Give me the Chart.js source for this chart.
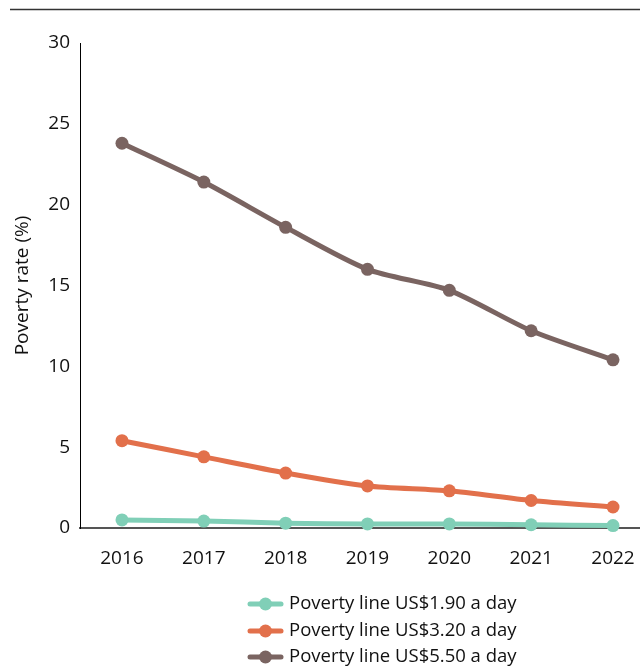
<!DOCTYPE html>
<html>
<head>
<meta charset="utf-8">
<script src="https://cdn.jsdelivr.net/npm/chart.js@4/dist/chart.umd.min.js"></script>
<style>
html,body{margin:0;padding:0;background:#fff;}
#wrap{width:640px;height:666px;position:relative;}
</style>
</head>
<body>
<div id="wrap"><canvas id="c" width="640" height="666"></canvas></div>
<script>
const years = [2016, 2017, 2018, 2019, 2020, 2021, 2022];
const line190 = [0.5, 0.43, 0.3, 0.25, 0.25, 0.2, 0.15];
const line320 = [5.4, 4.4, 3.4, 2.6, 2.3, 1.7, 1.3];
const line550 = [23.8, 21.4, 18.6, 16.0, 14.7, 12.2, 10.4];
const seriesLabels = ['Poverty line US$1.90 a day', 'Poverty line US$3.20 a day', 'Poverty line US$5.50 a day'];
const seriesColors = ['#80cfb7', '#e2704b', '#7a6461'];
const yTicks = [0, 5, 10, 15, 20, 25, 30];

const FONT = "'Open Sans', sans-serif";

function mk(i, vals) {
  return {
    label: seriesLabels[i],
    data: years.map((y, k) => ({x: y, y: vals[k]})),
    borderColor: seriesColors[i],
    backgroundColor: seriesColors[i],
    borderWidth: 5,
    pointRadius: 6.5,
    pointHoverRadius: 6.5,
    pointBorderWidth: 0,
    tension: 0.25,
    clip: false
  };
}

const topLine = {
  id: 'topLine',
  beforeDraw(chart) {
    const ctx = chart.ctx;
    ctx.save();
    ctx.strokeStyle = '#333';
    ctx.lineWidth = 1.5;
    ctx.beginPath();
    ctx.moveTo(10, 9.5);
    ctx.lineTo(640, 9.5);
    ctx.stroke();
    ctx.restore();
  }
};

const customLegend = {
  id: 'customLegend',
  afterDraw(chart) {
    const ctx = chart.ctx;
    const rows = [604, 631, 657];
    ctx.save();
    chart.data.datasets.forEach((ds, i) => {
      const y = rows[i];
      ctx.strokeStyle = ds.borderColor;
      ctx.lineWidth = 5;
      ctx.lineCap = 'round';
      ctx.beginPath();
      ctx.moveTo(250, y);
      ctx.lineTo(281, y);
      ctx.stroke();
      ctx.fillStyle = ds.borderColor;
      ctx.beginPath();
      ctx.arc(265.5, y, 6.5, 0, Math.PI * 2);
      ctx.fill();
      ctx.fillStyle = '#111';
      ctx.font = "18.5px " + FONT;
      ctx.textBaseline = 'middle';
      ctx.textAlign = 'left';
      ctx.fillText(ds.label, 289, y);
    });
    ctx.restore();
  }
};

new Chart(document.getElementById('c'), {
  type: 'line',
  data: {
    datasets: [mk(0, line190), mk(1, line320), mk(2, line550)]
  },
  plugins: [topLine, customLegend],
  options: {
    responsive: false,
    animation: false,
    layout: {autoPadding: false, padding: {top: 43, right: 0, left: 0, bottom: 0}},
    plugins: {legend: {display: false}, tooltip: {enabled: false}},
    scales: {
      x: {
        type: 'linear',
        min: 2015.487,
        max: 2022.33,
        afterFit(s) { s.height = 138; s.paddingLeft = 0; s.paddingRight = 0; },
        afterBuildTicks(s) { s.ticks = years.map(v => ({value: v})); },
        grid: {display: false, drawTicks: false},
        border: {display: true, color: '#555', width: 2},
        ticks: {
          padding: 19,
          color: '#111',
          font: {family: FONT, size: 19},
          callback: (v) => String(v)
        }
      },
      y: {
        min: 0,
        max: 30,
        afterFit(s) { s.width = 80; s.paddingTop = 0; s.paddingBottom = 0; },
        afterBuildTicks(s) { s.ticks = yTicks.map(v => ({value: v})); },
        grid: {display: false, drawTicks: false},
        border: {display: true, color: '#000', width: 1},
        ticks: {
          padding: 10,
          color: '#111',
          font: {family: FONT, size: 19}
        },
        title: {
          display: true,
          text: 'Poverty rate (%)',
          color: '#111',
          font: {family: FONT, size: 19},
          padding: {top: 11, bottom: 0}
        }
      }
    }
  }
});
</script>
</body>
</html>
